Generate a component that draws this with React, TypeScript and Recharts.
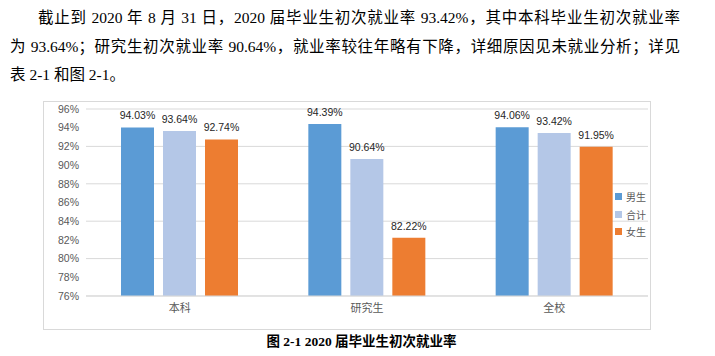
import React from 'react';
import { BarChart, Bar, XAxis, YAxis, CartesianGrid, LabelList, Legend } from 'recharts';

const categories = ['本科', '研究生', '全校'];
const seriesNames = ['男生', '合计', '女生'];
const maleRates = [94.03, 94.39, 94.06];
const totalRates = [93.64, 90.64, 93.42];
const femaleRates = [92.74, 82.22, 91.95];
const yTicks = [76, 78, 80, 82, 84, 86, 88, 90, 92, 94, 96];

const paraLines = [
  '截止到 2020 年 8 月 31 日，2020 届毕业生初次就业率 93.42%，其中本科毕业生初次就业率',
  '为 93.64%；研究生初次就业率 90.64%，就业率较往年略有下降，详细原因见未就业分析；详见',
  '表 2-1 和图 2-1。',
];
const caption = '图 2-1 2020 届毕业生初次就业率';

const data = categories.map((c, i) => ({
  cat: c,
  male: maleRates[i],
  total: totalRates[i],
  female: femaleRates[i],
}));

const chartFont = '"Liberation Sans", "Noto Sans CJK SC", sans-serif';
const fmt = (v: any) => Number(v).toFixed(2) + '%';

const LegendContent = (props: any) => {
  const items = [...(props.payload || [])].sort(
    (a: any, b: any) => seriesNames.indexOf(a.value) - seriesNames.indexOf(b.value)
  );
  return (
    <div style={{ fontFamily: '"Noto Sans CJK SC", sans-serif', fontSize: 10, color: '#595959' }}>
      {items.map((p: any) => (
        <div key={p.value} style={{ display: 'flex', alignItems: 'center', height: 17.5 }}>
          <span style={{ display: 'inline-block', width: 7, height: 7, background: p.color, marginRight: 4 }} />
          <span>{p.value}</span>
        </div>
      ))}
    </div>
  );
};

export default function App() {
  return (
    <div style={{ position: 'absolute', left: 0, top: 0, width: 715, height: 356, background: '#fff', overflow: 'hidden' }}>
      {paraLines.map((line, i) => (
        <div
          key={i}
          style={{
            position: 'absolute',
            left: i === 0 ? 38 : 10,
            top: [4, 33, 61][i],
            width: i === 0 ? 642 : 670,
            height: 28,
            lineHeight: '28px',
            fontSize: 15.5,
            fontFamily: '"Liberation Serif", "Noto Sans CJK SC", serif',
            color: '#000',
            textAlign: 'justify',
            textAlignLast: i === 2 ? 'left' : 'justify',
            whiteSpace: 'nowrap',
          } as any}
        >
          {line}
        </div>
      ))}
      <div
        style={{
          position: 'absolute',
          left: 43,
          top: 101,
          width: 608,
          height: 229,
          boxSizing: 'border-box',
          border: '1px solid #d9d9d9',
        }}
      />
      <div style={{ position: 'absolute', left: 43, top: 101 }}>
        <BarChart
          width={607}
          height={228}
          data={data}
          margin={{ top: 8, right: 2, left: 0, bottom: 0 }}
          barCategoryGap={35}
          barGap={9}
        >
          <CartesianGrid vertical={false} stroke="#d9d9d9" />
          <XAxis
            dataKey="cat"
            height={33}
            axisLine={{ stroke: '#d9d9d9' }}
            tickLine={false}
            tick={{ fill: '#595959', fontSize: 11, fontFamily: chartFont }}
          />
          <YAxis
            width={43}
            domain={[76, 96]}
            ticks={yTicks}
            tickFormatter={(v: any) => v + '%'}
            axisLine={false}
            tickLine={false}
            tickMargin={1}
            tick={{ fill: '#595959', fontSize: 10.5, fontFamily: chartFont }}
          />
          <Legend
            layout="vertical"
            align="center"
            verticalAlign="middle"
            wrapperStyle={{ left: 572, top: 87, width: 40, height: 53 }}
            content={LegendContent}
          />
          <Bar dataKey="male" name={seriesNames[0]} fill="#5B9BD5" isAnimationActive={false}>
            <LabelList dataKey="male" position="top" offset={8} formatter={fmt} fill="#262626" fontSize={10.5} fontFamily={chartFont} />
          </Bar>
          <Bar dataKey="total" name={seriesNames[1]} fill="#B4C7E7" isAnimationActive={false}>
            <LabelList dataKey="total" position="top" offset={8} formatter={fmt} fill="#262626" fontSize={10.5} fontFamily={chartFont} />
          </Bar>
          <Bar dataKey="female" name={seriesNames[2]} fill="#ED7D31" isAnimationActive={false}>
            <LabelList dataKey="female" position="top" offset={8} formatter={fmt} fill="#262626" fontSize={10.5} fontFamily={chartFont} />
          </Bar>
        </BarChart>
      </div>
      <div
        style={{
          position: 'absolute',
          left: 0,
          top: 333,
          width: 723,
          textAlign: 'center',
          fontSize: 13.5,
          lineHeight: '18px',
          fontWeight: 700,
          fontFamily: '"Liberation Serif", "Noto Sans CJK SC", serif',
          color: '#000',
        }}
      >
        {caption}
      </div>
    </div>
  );
}
